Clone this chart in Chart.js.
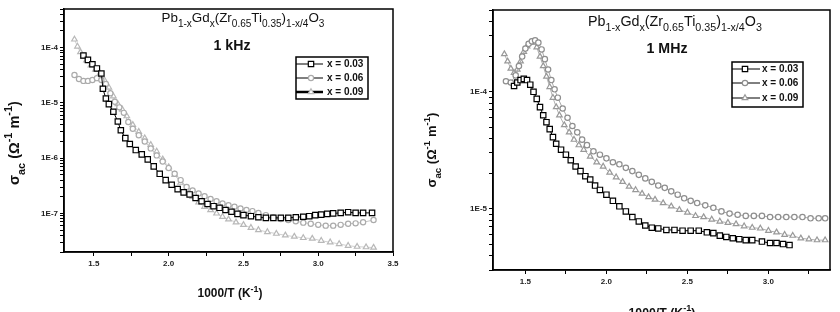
<!DOCTYPE html>
<html>
<head>
<meta charset="utf-8">
<script src="https://cdn.jsdelivr.net/npm/chart.js"></script>
<style>
  html, body { margin: 0; padding: 0; background: #fff; }
  #wrap { position: relative; width: 840px; height: 312px; background: #fff; }
  .panel { position: absolute; top: 0; width: 420px; height: 312px; }
</style>
</head>
<body>
<div id="wrap">
  <div class="panel" style="left:0"><canvas id="chartKHz" width="420" height="312"></canvas></div>
  <div class="panel" style="left:420px"><canvas id="chartMHz" width="420" height="312"></canvas></div>
</div>
<script>
const seriesLabels = ['x = 0.03', 'x = 0.06', 'x = 0.09'];

// ---- 1 kHz panel ----
const khzX003 = [1.43, 1.46, 1.49, 1.52, 1.55, 1.56, 1.58, 1.60, 1.63, 1.66, 1.68, 1.71, 1.74, 1.78, 1.82, 1.86, 1.90, 1.94, 1.98, 2.02, 2.06, 2.10, 2.14, 2.18, 2.22, 2.26, 2.30, 2.34, 2.38, 2.42, 2.46, 2.50, 2.55, 2.60, 2.65, 2.70, 2.75, 2.80, 2.85, 2.90, 2.94, 2.98, 3.02, 3.06, 3.10, 3.15, 3.20, 3.25, 3.30, 3.36];
const khzY003 = [7.2e-5, 6.0e-5, 5.0e-5, 4.2e-5, 3.4e-5, 1.8e-5, 1.2e-5, 9.5e-6, 6.9e-6, 4.6e-6, 3.2e-6, 2.3e-6, 1.8e-6, 1.4e-6, 1.17e-6, 9.5e-7, 7.1e-7, 5.2e-7, 4.0e-7, 3.3e-7, 2.75e-7, 2.4e-7, 2.2e-7, 1.9e-7, 1.66e-7, 1.48e-7, 1.35e-7, 1.26e-7, 1.15e-7, 1.07e-7, 9.8e-8, 9.3e-8, 8.9e-8, 8.5e-8, 8.3e-8, 8.3e-8, 8.3e-8, 8.3e-8, 8.5e-8, 8.7e-8, 8.9e-8, 9.3e-8, 9.5e-8, 9.8e-8, 1.0e-7, 1.02e-7, 1.05e-7, 1.02e-7, 1.02e-7, 1.02e-7];

const khzX006 = [1.37, 1.40, 1.43, 1.46, 1.49, 1.52, 1.55, 1.58, 1.61, 1.64, 1.67, 1.70, 1.73, 1.76, 1.80, 1.84, 1.88, 1.92, 1.96, 2.00, 2.04, 2.08, 2.12, 2.16, 2.20, 2.24, 2.28, 2.32, 2.36, 2.40, 2.44, 2.48, 2.52, 2.56, 2.60, 2.65, 2.70, 2.75, 2.80, 2.85, 2.90, 2.95, 3.00, 3.05, 3.10, 3.15, 3.20, 3.25, 3.30, 3.37];
const khzY006 = [3.2e-5, 2.7e-5, 2.5e-5, 2.5e-5, 2.6e-5, 2.8e-5, 2.6e-5, 2.2e-5, 1.5e-5, 1.05e-5, 8.3e-6, 6.6e-6, 4.5e-6, 3.4e-6, 2.6e-6, 2.0e-6, 1.5e-6, 1.12e-6, 8.7e-7, 6.6e-7, 5.2e-7, 4.0e-7, 3.0e-7, 2.6e-7, 2.3e-7, 2.05e-7, 1.82e-7, 1.66e-7, 1.51e-7, 1.41e-7, 1.32e-7, 1.23e-7, 1.15e-7, 1.10e-7, 1.02e-7, 9.3e-8, 8.5e-8, 7.9e-8, 7.6e-8, 7.2e-8, 6.8e-8, 6.5e-8, 6.2e-8, 6.0e-8, 6.0e-8, 6.2e-8, 6.5e-8, 6.6e-8, 6.9e-8, 7.6e-8];

const khzX009 = [1.37, 1.39, 1.41, 1.43, 1.45, 1.48, 1.51, 1.54, 1.57, 1.60, 1.63, 1.66, 1.69, 1.72, 1.76, 1.80, 1.84, 1.88, 1.92, 1.96, 2.00, 2.04, 2.08, 2.12, 2.16, 2.20, 2.24, 2.28, 2.32, 2.36, 2.40, 2.45, 2.50, 2.55, 2.60, 2.66, 2.72, 2.78, 2.84, 2.90, 2.96, 3.02, 3.08, 3.14, 3.20, 3.26, 3.32, 3.37];
const khzY009 = [1.41e-4, 1.05e-4, 8.3e-5, 6.8e-5, 5.9e-5, 4.8e-5, 4.0e-5, 3.4e-5, 2.6e-5, 1.9e-5, 1.32e-5, 9.5e-6, 7.6e-6, 5.75e-6, 4.0e-6, 3.0e-6, 2.3e-6, 1.74e-6, 1.32e-6, 9.5e-7, 6.9e-7, 5.0e-7, 3.6e-7, 2.75e-7, 2.0e-7, 1.58e-7, 1.32e-7, 1.15e-7, 1.0e-7, 8.7e-8, 7.8e-8, 6.9e-8, 6.2e-8, 5.5e-8, 5.0e-8, 4.6e-8, 4.3e-8, 4.0e-8, 3.8e-8, 3.6e-8, 3.5e-8, 3.2e-8, 3.0e-8, 2.8e-8, 2.6e-8, 2.5e-8, 2.45e-8, 2.4e-8];

const khzXTicks = [1.5, 1.75, 2.0, 2.25, 2.5, 2.75, 3.0, 3.25, 3.5];

// ---- 1 MHz panel ----
const mhzX003 = [1.43, 1.45, 1.47, 1.49, 1.51, 1.53, 1.55, 1.57, 1.59, 1.61, 1.63, 1.65, 1.67, 1.69, 1.72, 1.75, 1.78, 1.81, 1.84, 1.87, 1.90, 1.93, 1.96, 2.00, 2.04, 2.08, 2.12, 2.16, 2.20, 2.24, 2.28, 2.32, 2.37, 2.42, 2.47, 2.52, 2.57, 2.62, 2.66, 2.70, 2.74, 2.78, 2.82, 2.86, 2.90, 2.96, 3.01, 3.05, 3.09, 3.13];
const mhzY003 = [1.12e-4, 1.2e-4, 1.26e-4, 1.29e-4, 1.26e-4, 1.15e-4, 1.0e-4, 8.7e-5, 7.4e-5, 6.3e-5, 5.5e-5, 4.8e-5, 4.1e-5, 3.6e-5, 3.2e-5, 2.9e-5, 2.6e-5, 2.3e-5, 2.1e-5, 1.9e-5, 1.78e-5, 1.58e-5, 1.45e-5, 1.32e-5, 1.17e-5, 1.05e-5, 9.5e-6, 8.5e-6, 7.8e-6, 7.2e-6, 6.9e-6, 6.8e-6, 6.6e-6, 6.6e-6, 6.5e-6, 6.5e-6, 6.5e-6, 6.3e-6, 6.2e-6, 5.9e-6, 5.75e-6, 5.6e-6, 5.5e-6, 5.4e-6, 5.4e-6, 5.25e-6, 5.1e-6, 5.1e-6, 5.0e-6, 4.9e-6];

const mhzX006 = [1.38, 1.41, 1.44, 1.46, 1.48, 1.50, 1.52, 1.54, 1.56, 1.58, 1.60, 1.62, 1.64, 1.66, 1.68, 1.70, 1.73, 1.76, 1.79, 1.82, 1.85, 1.88, 1.92, 1.96, 2.00, 2.04, 2.08, 2.12, 2.16, 2.20, 2.24, 2.28, 2.32, 2.36, 2.40, 2.44, 2.48, 2.52, 2.56, 2.61, 2.66, 2.71, 2.76, 2.81, 2.86, 2.91, 2.96, 3.01, 3.06, 3.11, 3.16, 3.21, 3.26, 3.31, 3.35];
const mhzY006 = [1.23e-4, 1.2e-4, 1.38e-4, 1.66e-4, 2.0e-4, 2.34e-4, 2.57e-4, 2.7e-4, 2.75e-4, 2.63e-4, 2.3e-4, 1.9e-4, 1.55e-4, 1.26e-4, 1.05e-4, 8.9e-5, 7.2e-5, 6.0e-5, 5.1e-5, 4.5e-5, 3.9e-5, 3.5e-5, 3.1e-5, 2.9e-5, 2.7e-5, 2.5e-5, 2.4e-5, 2.24e-5, 2.1e-5, 1.95e-5, 1.82e-5, 1.7e-5, 1.58e-5, 1.51e-5, 1.41e-5, 1.32e-5, 1.23e-5, 1.17e-5, 1.12e-5, 1.07e-5, 1.02e-5, 9.5e-6, 9.1e-6, 8.9e-6, 8.7e-6, 8.7e-6, 8.7e-6, 8.5e-6, 8.5e-6, 8.5e-6, 8.5e-6, 8.5e-6, 8.3e-6, 8.3e-6, 8.3e-6];

const mhzX009 = [1.37, 1.39, 1.41, 1.43, 1.45, 1.47, 1.49, 1.51, 1.53, 1.55, 1.57, 1.59, 1.61, 1.63, 1.65, 1.67, 1.69, 1.71, 1.74, 1.77, 1.80, 1.83, 1.86, 1.90, 1.94, 1.98, 2.02, 2.06, 2.10, 2.14, 2.18, 2.22, 2.26, 2.30, 2.35, 2.40, 2.45, 2.50, 2.55, 2.60, 2.65, 2.70, 2.75, 2.80, 2.85, 2.90, 2.95, 3.00, 3.05, 3.10, 3.15, 3.20, 3.25, 3.30, 3.35];
const mhzY009 = [2.1e-4, 1.82e-4, 1.58e-4, 1.45e-4, 1.55e-4, 1.82e-4, 2.2e-4, 2.45e-4, 2.63e-4, 2.63e-4, 2.4e-4, 2.0e-4, 1.66e-4, 1.35e-4, 1.1e-4, 8.9e-5, 7.4e-5, 6.3e-5, 5.2e-5, 4.5e-5, 3.9e-5, 3.5e-5, 3.2e-5, 2.8e-5, 2.5e-5, 2.3e-5, 2.04e-5, 1.86e-5, 1.7e-5, 1.55e-5, 1.45e-5, 1.35e-5, 1.26e-5, 1.2e-5, 1.12e-5, 1.05e-5, 9.8e-6, 9.3e-6, 8.7e-6, 8.5e-6, 8.1e-6, 7.8e-6, 7.6e-6, 7.4e-6, 7.1e-6, 6.9e-6, 6.8e-6, 6.5e-6, 6.3e-6, 6.0e-6, 5.9e-6, 5.6e-6, 5.5e-6, 5.4e-6, 5.4e-6];

const mhzXTicks = [1.5, 1.75, 2.0, 2.25, 2.5, 2.75, 3.0, 3.25];


const FONT = '"Liberation Sans", Arial, Helvetica, sans-serif';

function toPoints(xs, ys) {
    return xs.map((x, i) => ({ x: x, y: ys[i] }));
}

function logTicks(lo, hi) {
    const ticks = [];
    for (let e = Math.floor(Math.log10(lo)); e <= Math.ceil(Math.log10(hi)); e++) {
        for (let m = 1; m <= 9; m++) {
            const v = m * Math.pow(10, e);
            if (v >= lo * 0.999 && v <= hi * 1.001) {
                ticks.push({ value: v, major: m === 1 });
            }
        }
    }
    return ticks;
}

// text with sub/superscripts, centred on x, scaled to a target width
function drawRich(ctx, parts, x, y, target, weight) {
    const widthAt = size => parts.reduce((w, p) => {
        ctx.font = `${weight} ${p[1] ? size * 0.75 : size}px ${FONT}`;
        return w + ctx.measureText(p[0]).width;
    }, 0);
    const size = 12 * target / widthAt(12);
    let cx = x - target / 2;
    ctx.textAlign = 'left';
    ctx.textBaseline = 'alphabetic';
    ctx.fillStyle = '#111';
    parts.forEach(p => {
        ctx.font = `${weight} ${p[1] ? size * 0.75 : size}px ${FONT}`;
        let dy = 0;
        if (p[1] === 'sub') dy = size * 0.38;
        if (p[1] === 'sup') dy = -size * 0.45;
        ctx.fillText(p[0], cx, y + dy);
        cx += ctx.measureText(p[0]).width;
    });
}

function drawMarker(ctx, style, x, y, r, color) {
    ctx.save();
    ctx.strokeStyle = color;
    ctx.fillStyle = '#fff';
    ctx.lineWidth = 1.2;
    ctx.beginPath();
    if (style === 'rect') {
        const s = r * Math.SQRT1_2;
        ctx.rect(x - s, y - s, 2 * s, 2 * s);
    } else if (style === 'triangle') {
        ctx.moveTo(x, y - r);
        ctx.lineTo(x + r * 0.87, y + r * 0.5);
        ctx.lineTo(x - r * 0.87, y + r * 0.5);
        ctx.closePath();
    } else {
        ctx.arc(x, y, r, 0, Math.PI * 2);
    }
    ctx.fill();
    ctx.stroke();
    ctx.restore();
}

const formula = [['Pb'], ['1-x', 'sub'], ['Gd'], ['x', 'sub'], ['(Zr'], ['0.65', 'sub'], ['Ti'], ['0.35', 'sub'], [')'], ['1-x/4', 'sub'], ['O'], ['3', 'sub']];
const yTitle = [['\u03c3'], ['ac', 'sub'], [' (\u03a9'], ['-1', 'sup'], [' m'], ['-1', 'sup'], [')']];
const xTitle = [['1000/T (K'], ['-1', 'sup'], [')']];

const decorPlugin = {
    id: 'decor',
    afterDraw(chart, args, o) {
        const ctx = chart.ctx;
        const a = chart.chartArea;
        ctx.save();
        ctx.strokeStyle = '#000';
        ctx.lineWidth = 1.5;
        ctx.strokeRect(a.left, a.top, a.right - a.left, a.bottom - a.top);

        drawRich(ctx, formula, o.formula.x, o.formula.y, o.formula.w, 'normal');
        drawRich(ctx, [[o.freq.text]], o.freq.x, o.freq.y, o.freq.w, 'bold');
        drawRich(ctx, xTitle, o.xTitle.x, o.xTitle.y, o.xTitle.w, 'bold');

        ctx.save();
        ctx.translate(o.yTitle.x, o.yTitle.y);
        ctx.rotate(-Math.PI / 2);
        drawRich(ctx, yTitle, 0, 0, o.yTitle.w, 'bold');
        ctx.restore();

        // legend box
        const L = o.legend;
        ctx.fillStyle = '#fff';
        ctx.fillRect(L.x, L.y, L.w, L.h);
        ctx.lineWidth = 1.5;
        ctx.strokeStyle = '#000';
        ctx.strokeRect(L.x, L.y, L.w, L.h);
        chart.data.datasets.forEach((ds, i) => {
            const ry = L.rows[i];
            ctx.beginPath();
            ctx.lineWidth = L.lineWidths[i];
            ctx.strokeStyle = '#000';
            ctx.moveTo(L.x, ry);
            ctx.lineTo(L.lineEnd, ry);
            ctx.stroke();
            drawMarker(ctx, ds.pointStyle, L.marker, ry, ds.pointRadius, ds.pointBorderColor);
            ctx.fillStyle = '#111';
            ctx.font = `bold 10px ${FONT}`;
            ctx.textAlign = 'left';
            ctx.textBaseline = 'middle';
            ctx.fillText(ds.label, L.textX, ry + 0.5);
        });
        ctx.restore();
    }
};

function makeDataset(label, points, style, color, radius, lineColor) {
    return {
        label: label,
        data: points,
        showLine: true,
        borderColor: lineColor,
        borderWidth: 1,
        pointStyle: style,
        pointRadius: radius,
        pointBorderColor: color,
        pointBackgroundColor: '#fff',
        pointBorderWidth: 1.2,
        pointHoverRadius: radius,
        tension: 0
    };
}

function drawPanel(canvasId, datasets, xMin, xMax, xTicks, yMin, yMax, yAxisWidth, xAxisHeight, padding, decor) {
    const ctx = document.getElementById(canvasId).getContext('2d');
    return new Chart(ctx, {
        type: 'scatter',
        data: { datasets: datasets },
        options: {
            responsive: false,
            animation: false,
            layout: { padding: padding },
            plugins: {
                legend: { display: false },
                tooltip: { enabled: false },
                decor: decor
            },
            scales: {
                x: {
                    type: 'linear',
                    min: xMin,
                    max: xMax,
                    afterBuildTicks: scale => { scale.ticks = xTicks.map(v => ({ value: v })); },
                    afterFit: scale => { scale.height = xAxisHeight; },
                    grid: { drawOnChartArea: false, drawTicks: true, tickLength: 4, tickColor: '#000', tickWidth: 1 },
                    border: { display: true, color: '#000', width: 1.5 },
                    ticks: {
                        autoSkip: false,
                        maxRotation: 0,
                        padding: 3,
                        color: '#222',
                        font: { family: FONT, size: 8, weight: 'bold' },
                        callback: v => (Math.round(v * 4) % 2 === 0 ? v.toFixed(1) : '')
                    }
                },
                y: {
                    type: 'logarithmic',
                    min: yMin,
                    max: yMax,
                    afterBuildTicks: scale => { scale.ticks = logTicks(yMin, yMax); },
                    afterFit: scale => { scale.width = yAxisWidth; },
                    grid: { drawOnChartArea: false, drawTicks: true, tickLength: 4, tickColor: '#000', tickWidth: 1 },
                    border: { display: true, color: '#000', width: 1.5 },
                    ticks: {
                        autoSkip: false,
                        padding: 2,
                        color: '#222',
                        font: { family: FONT, size: 8, weight: 'bold' },
                        callback: (v, i, ticks) => (ticks[i].major ? '1E' + Math.round(Math.log10(v)) : '')
                    }
                }
            }
        },
        plugins: [decorPlugin]
    });
}

drawPanel('chartKHz', [
    makeDataset(seriesLabels[0], toPoints(khzX003, khzY003), 'rect', '#000', 3.8, '#000'),
    makeDataset(seriesLabels[1], toPoints(khzX006, khzY006), 'circle', '#ababab', 2.6, '#c4c4c4'),
    makeDataset(seriesLabels[2], toPoints(khzX009, khzY009), 'triangle', '#b8b8b8', 3.2, '#d0d0d0')
], 1.3, 3.5, khzXTicks, 2e-8, 5e-4, 64, 60, { left: 0, top: 9, right: 27, bottom: 0 }, {
    formula: { x: 243, y: 22, w: 163 },
    freq: { text: '1 kHz', x: 232, y: 50, w: 37 },
    xTitle: { x: 230, y: 297, w: 65 },
    yTitle: { x: 19, y: 143, w: 84 },
    legend: { x: 296, y: 57, w: 72, h: 42, rows: [64, 78, 92], lineWidths: [1, 1, 2.5], lineEnd: 323, marker: 311, textX: 327 }
});

drawPanel('chartMHz', [
    makeDataset(seriesLabels[0], toPoints(mhzX003, mhzY003), 'rect', '#000', 3.8, '#000'),
    makeDataset(seriesLabels[1], toPoints(mhzX006, mhzY006), 'circle', '#8e8e8e', 2.7, '#a8a8a8'),
    makeDataset(seriesLabels[2], toPoints(mhzX009, mhzY009), 'triangle', '#999999', 3.2, '#b0b0b0')
], 1.3, 3.38, mhzXTicks, 3e-6, 5e-4, 73, 42, { left: 0, top: 10, right: 10, bottom: 0 }, {
    formula: { x: 255, y: 26, w: 174 },
    freq: { text: '1 MHz', x: 247, y: 53, w: 41 },
    xTitle: { x: 242, y: 317, w: 67 },
    yTitle: { x: 16, y: 150, w: 75 },
    legend: { x: 312, y: 62, w: 71, h: 45, rows: [69, 83, 98], lineWidths: [1, 1, 1], lineEnd: 340, marker: 325, textX: 342 }
});
</script>
</body>
</html>
